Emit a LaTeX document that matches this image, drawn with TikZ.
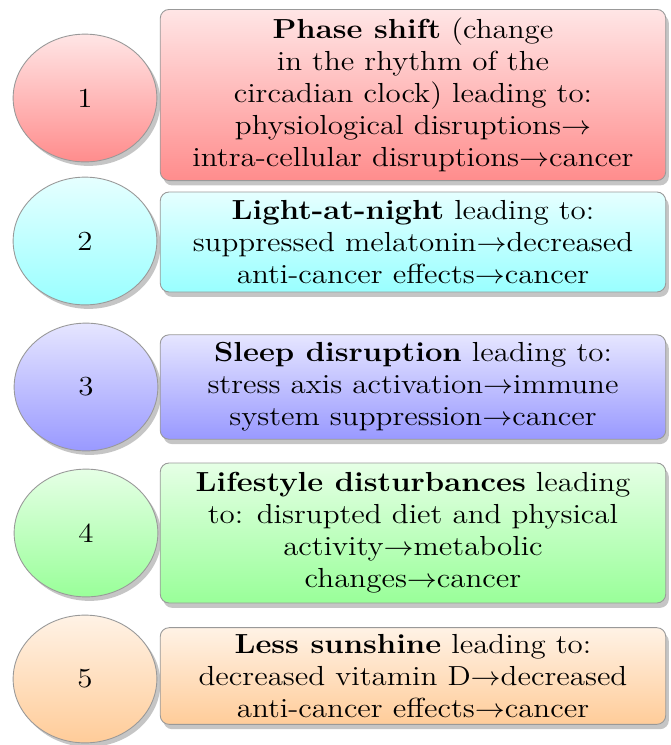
\documentclass[tikz,border=0pt]{standalone}
\usepackage{amsmath}
\usepackage{tikz}
\usetikzlibrary{shadows}
\tikzset{>=latex}
\tikzset{
  numball/.style={circle,draw=gray!80,thin,minimum size=57.5pt,
    inner sep=0pt,font=\fontsize{12.4}{14.4}\selectfont,
    drop shadow={shadow xshift=1.6pt,shadow yshift=-1.8pt,fill=black!45}},
  descbox/.style={rectangle,rounded corners=4pt,draw=gray!80,thin,minimum width=202.2pt,
    inner sep=0pt,align=center,font=\fontsize{12.4}{14.4}\selectfont,
    drop shadow={shadow xshift=1.4pt,shadow yshift=-2.2pt,fill=black!45}}
}

\begin{document}
\begin{tikzpicture}[x=0.4pt,y=-0.45pt,xscale=1.125,every node/.append style={transform shape}]
      \useasboundingbox (0,0) rectangle (671,745);
      % numbered balls
      \node[numball,top color=red!10,bottom color=red!45] (n1) at (85,98) {1};
      \node[numball,top color=cyan!10,bottom color=cyan!40] (n2) at (85,241) {2};
      \node[numball,top color=blue!10,bottom color=blue!40] (n3) at (86,387) {3};
      \node[numball,top color=green!10,bottom color=green!40] (n4) at (86,533) {4};
      \node[numball,top color=orange!10,bottom color=orange!40] (n5) at (85,679) {5};
      % descriptions
      \node[descbox,minimum height=77pt,top color=red!10,bottom color=red!45] (d1) at (413,95)
        {\textbf{Phase shift} (change\\ in the rhythm of the\\ circadian clock) leading to:\\
         physiological disruptions$\rightarrow$\\ intra-cellular disruptions$\rightarrow$cancer};
      \node[descbox,minimum height=45pt,top color=cyan!10,bottom color=cyan!40] (d2) at (413,242)
        {\textbf{Light-at-night} leading to:\\ suppressed melatonin$\rightarrow$decreased\\
         anti-cancer effects$\rightarrow$cancer};
      \node[descbox,minimum height=47pt,top color=blue!10,bottom color=blue!40] (d3) at (413,387)
        {\textbf{Sleep disruption} leading to:\\ stress axis activation$\rightarrow$immune\\
         system suppression$\rightarrow$cancer};
      \node[descbox,minimum height=63pt,top color=green!10,bottom color=green!40] (d4) at (413,533)
        {\textbf{Lifestyle disturbances} leading\\ to: disrupted diet and physical\\
         activity$\rightarrow$metabolic\\ changes$\rightarrow$cancer};
      \node[descbox,minimum height=43.5pt,top color=orange!10,bottom color=orange!40] (d5) at (413,676)
        {\textbf{Less sunshine} leading to:\\ decreased vitamin D$\rightarrow$decreased\\
         anti-cancer effects$\rightarrow$cancer};
\end{tikzpicture}
\end{document}
